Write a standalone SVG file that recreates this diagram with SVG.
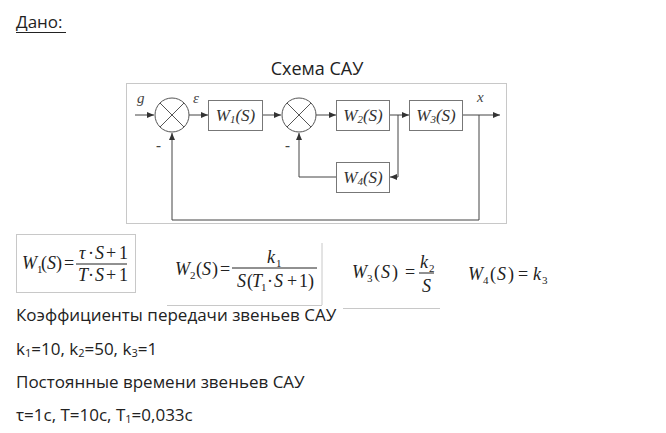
<svg xmlns="http://www.w3.org/2000/svg" width="666" height="433" viewBox="0 0 666 433">
<style>
.t{font-family:"Open Sans","Noto Sans",sans-serif;font-size:17px;fill:#222}
.m{font-family:"Liberation Serif","Times New Roman",serif;font-size:18px;fill:#222}
.i{font-style:italic}
.s{font-size:11px}
.bl{font-family:"Liberation Serif","Times New Roman",serif;font-size:17px;font-style:italic;fill:#333;text-anchor:middle}
.lb{font-family:"Liberation Serif","Times New Roman",serif;font-size:15px;font-style:italic;fill:#444}
.box{fill:#fff;stroke:#777;stroke-width:1}
.sum{fill:#fff;stroke:#555;stroke-width:1}
.x{stroke:#555;stroke-width:1}
.c{fill:none;stroke:#444;stroke-width:1}
.fl{stroke:#222;stroke-width:1}
.g{stroke:#c8c8c8;stroke-width:1;fill:none}
</style>
<defs>
<marker id="ar" markerUnits="userSpaceOnUse" markerWidth="7" markerHeight="6" refX="7" refY="3" orient="auto">
<path d="M0,0 L7,3 L0,6 z" fill="#333"/>
</marker>
</defs>
<rect width="666" height="433" fill="#fff"/>

<text class="t" x="16" y="28">Дано:</text>
<line x1="16" y1="32.5" x2="66" y2="32.5" stroke="#222" stroke-width="1"/>
<text class="t" x="317" y="75" text-anchor="middle" style="font-size:18px">Схема САУ</text>

<rect class="g" x="126.5" y="83.5" width="380" height="140"/>

<g id="connectors">
<path class="c" d="M135,115 H154" marker-end="url(#ar)"/>
<path class="c" d="M189,115 H208" marker-end="url(#ar)"/>
<path class="c" d="M263,115 H281" marker-end="url(#ar)"/>
<path class="c" d="M316,115 H336" marker-end="url(#ar)"/>
<path class="c" d="M390,115 H409" marker-end="url(#ar)"/>
<path class="c" d="M463,115 H500" marker-end="url(#ar)"/>
<path class="c" d="M479,115 V220 H172 V133" marker-end="url(#ar)"/>
<path class="c" d="M398,115 V177 H390" marker-end="url(#ar)"/>
<path class="c" d="M336,177 H299 V133" marker-end="url(#ar)"/>
</g>

<g id="sum1">
<circle class="sum" cx="172" cy="115" r="17"/>
<line class="x" x1="160" y1="103" x2="184" y2="127"/>
<line class="x" x1="184" y1="103" x2="160" y2="127"/>
</g>
<g id="sum2">
<circle class="sum" cx="299" cy="115" r="17"/>
<line class="x" x1="287" y1="103" x2="311" y2="127"/>
<line class="x" x1="311" y1="103" x2="287" y2="127"/>
</g>
<g id="w1">
<rect class="box" x="208.5" y="100.5" width="54" height="30"/>
<text class="bl" x="235.5" y="121">W<tspan class="s" dy="2">1</tspan><tspan dy="-2">(S)</tspan></text>
</g>
<g id="w2">
<rect class="box" x="336.5" y="100.5" width="53" height="30"/>
<text class="bl" x="363" y="121">W<tspan class="s" dy="2">2</tspan><tspan dy="-2">(S)</tspan></text>
</g>
<g id="w3">
<rect class="box" x="409.5" y="100.5" width="53" height="30"/>
<text class="bl" x="436" y="121">W<tspan class="s" dy="2">3</tspan><tspan dy="-2">(S)</tspan></text>
</g>
<g id="w4">
<rect class="box" x="336.5" y="162.5" width="53" height="30"/>
<text class="bl" x="363" y="183">W<tspan class="s" dy="2">4</tspan><tspan dy="-2">(S)</tspan></text>
</g>

<g id="labels">
<text class="lb" x="137" y="103">g</text>
<text class="lb" x="193" y="103">ε</text>
<text class="lb" x="477" y="102">x</text>
<text class="lb" x="156" y="150" style="font-style:normal;font-weight:bold">-</text>
<text class="lb" x="285" y="150" style="font-style:normal;font-weight:bold">-</text>
</g>

<g id="formula-w1">
<rect class="g" x="16.5" y="234.5" width="119" height="58"/>
<text class="m"><tspan class="i" x="22" y="269">W</tspan><tspan class="s" x="37" y="273">1</tspan><tspan x="41" y="269">(</tspan><tspan class="i" x="47" y="269">S</tspan><tspan x="56" y="269">)</tspan><tspan x="64" y="269">=</tspan></text>
<line class="fl" x1="76" y1="264" x2="127" y2="264"/>
<text class="m"><tspan class="i" x="79" y="259">τ</tspan><tspan x="88" y="259">·</tspan><tspan class="i" x="95" y="259">S</tspan><tspan x="106" y="259">+</tspan><tspan x="119" y="259">1</tspan></text>
<text class="m"><tspan class="i" x="78" y="281">T</tspan><tspan x="88" y="281">·</tspan><tspan class="i" x="95" y="281">S</tspan><tspan x="106" y="281">+</tspan><tspan x="119" y="281">1</tspan></text>
</g>

<g id="formula-w2">
<line class="g" x1="322" y1="243" x2="322" y2="305"/>
<line class="g" x1="167" y1="305.5" x2="322" y2="305.5"/>
<text class="m"><tspan class="i" x="175" y="275">W</tspan><tspan class="s" x="190" y="279">2</tspan><tspan x="196" y="275">(</tspan><tspan class="i" x="202" y="275">S</tspan><tspan x="212" y="275">)</tspan><tspan x="220" y="275">=</tspan></text>
<line class="fl" x1="232" y1="268" x2="317" y2="268"/>
<text class="m"><tspan class="i" x="267" y="263">k</tspan><tspan class="s" x="276" y="267">1</tspan></text>
<text class="m"><tspan class="i" x="237" y="287">S</tspan><tspan x="247" y="287">(</tspan><tspan class="i" x="252" y="287">T</tspan><tspan class="s" x="261" y="291">1</tspan><tspan x="267" y="287">·</tspan><tspan class="i" x="274" y="287">S</tspan><tspan x="287" y="287">+</tspan><tspan x="299" y="287">1</tspan><tspan x="308" y="287">)</tspan></text>
</g>

<g id="formula-w3">
<line class="g" x1="343" y1="308.5" x2="440" y2="308.5"/>
<text class="m"><tspan class="i" x="352" y="278">W</tspan><tspan class="s" x="367" y="282">3</tspan><tspan x="374" y="278">(</tspan><tspan class="i" x="381" y="278">S</tspan><tspan x="392" y="278">)</tspan><tspan x="405" y="278">=</tspan></text>
<line class="fl" x1="419" y1="273" x2="434" y2="273"/>
<text class="m"><tspan class="i" x="420" y="268">k</tspan><tspan class="s" x="429" y="272">2</tspan></text>
<text class="m i" x="426.5" y="292" text-anchor="middle">S</text>
</g>

<g id="formula-w4">
<text class="m"><tspan class="i" x="468" y="280">W</tspan><tspan class="s" x="483" y="284">4</tspan><tspan x="490" y="280">(</tspan><tspan class="i" x="497" y="280">S</tspan><tspan x="508" y="280">)</tspan><tspan x="518" y="280">=</tspan><tspan class="i" x="533" y="280">k</tspan><tspan class="s" x="542" y="284">3</tspan></text>
</g>

<text class="t" x="16" y="321">Коэффициенты передачи звеньев САУ</text>
<text class="t" x="16" y="355">k<tspan font-size="11" dy="2">1</tspan><tspan dy="-2">=10, k</tspan><tspan font-size="11" dy="2">2</tspan><tspan dy="-2">=50, k</tspan><tspan font-size="11" dy="2">3</tspan><tspan dy="-2">=1</tspan></text>
<text class="t" x="16" y="388">Постоянные времени звеньев САУ</text>
<text class="t" x="16" y="421">τ=1c, T=10c, T<tspan font-size="11" dy="2">1</tspan><tspan dy="-2">=0,033c</tspan></text>
</svg>
